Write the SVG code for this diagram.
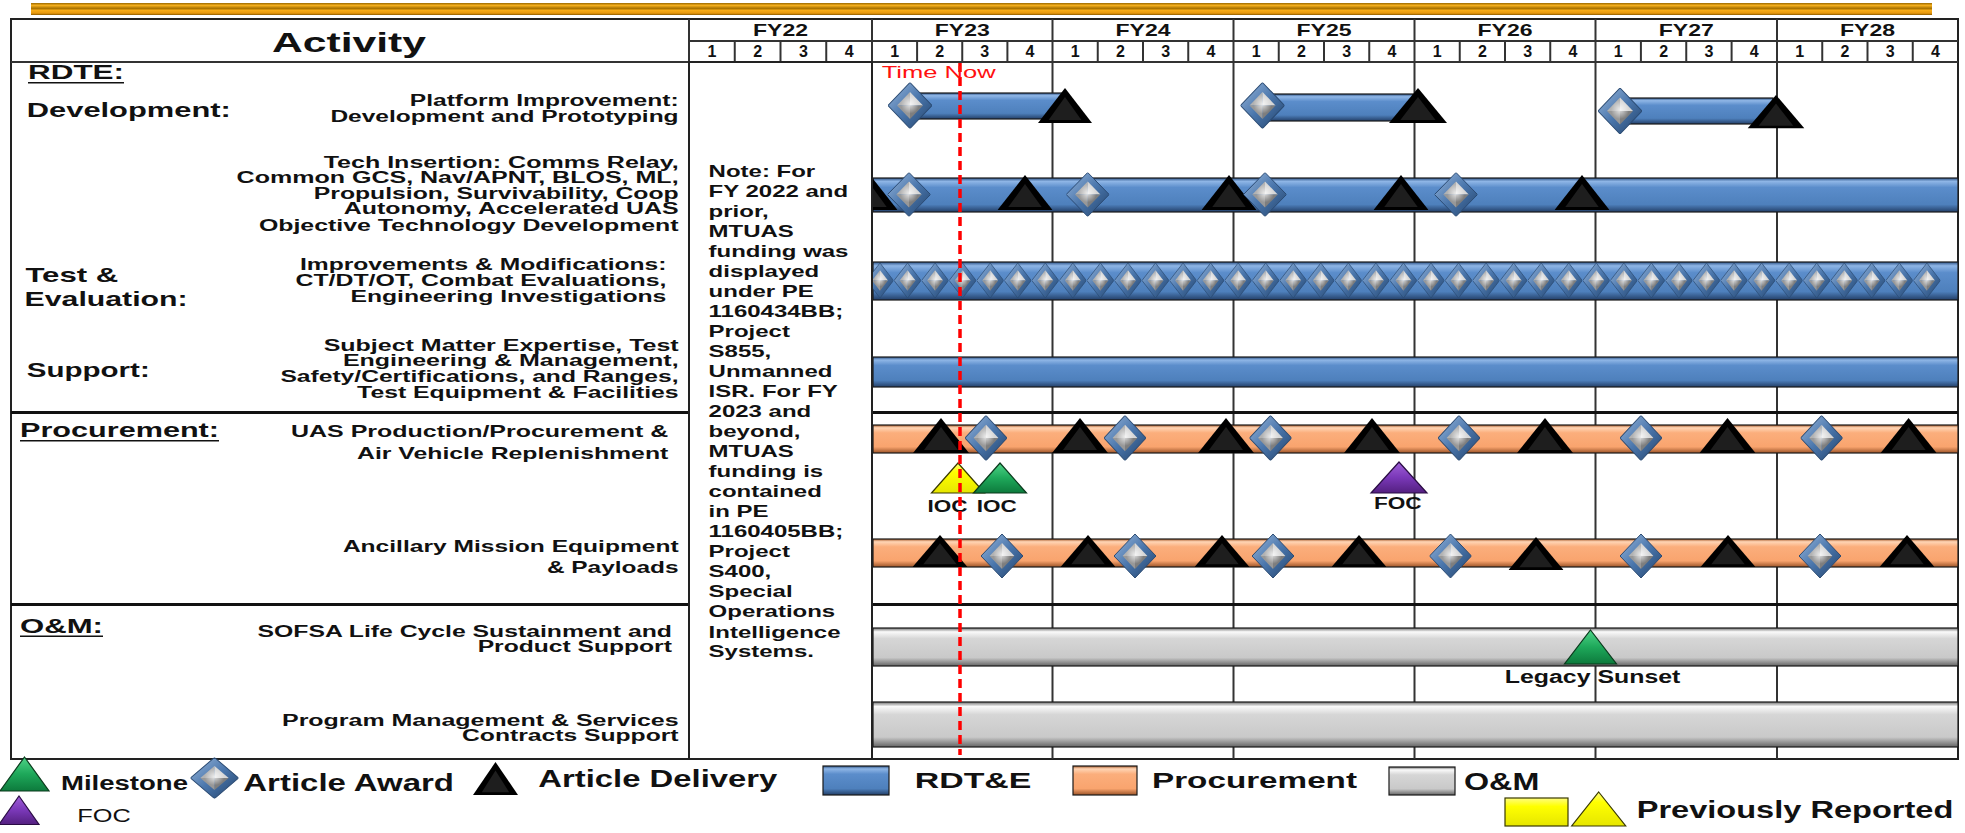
<svg xmlns="http://www.w3.org/2000/svg" width="1965" height="833" viewBox="0 0 1965 833">
<style>
text{font-family:"Liberation Sans",Arial,sans-serif;fill:#111}
.b{font-weight:bold}
.grid{stroke:#333;stroke-width:2;fill:none}
.sep{stroke:#111;stroke-width:3}
.bar{stroke:#1a1a1a;stroke-width:1.2}
.qn{font-size:16px;font-weight:bold;text-anchor:middle}
.fy{font-size:17px;font-weight:bold}
.act{font-size:16px;font-weight:bold}
.note{font-size:16px;font-weight:bold}
.leg{font-weight:bold}
</style>
<defs>
<linearGradient id="gGold" x1="0" y1="0" x2="0" y2="1">
<stop offset="0" stop-color="#9a6800"/><stop offset="0.2" stop-color="#f6b01e"/><stop offset="0.45" stop-color="#a87200"/><stop offset="0.62" stop-color="#f7ac18"/><stop offset="0.85" stop-color="#e8980e"/><stop offset="1" stop-color="#8a5a00"/>
</linearGradient>
<linearGradient id="gBlue" x1="0" y1="0" x2="0" y2="1">
<stop offset="0" stop-color="#2c5286"/><stop offset="0.1" stop-color="#8fb6e6"/><stop offset="0.28" stop-color="#5b8dcb"/><stop offset="0.78" stop-color="#4e80bc"/><stop offset="1" stop-color="#233f68"/>
</linearGradient>
<linearGradient id="gOrange" x1="0" y1="0" x2="0" y2="1">
<stop offset="0" stop-color="#a85a2a"/><stop offset="0.1" stop-color="#ffd5b5"/><stop offset="0.28" stop-color="#fbae7c"/><stop offset="0.78" stop-color="#f9a46e"/><stop offset="1" stop-color="#9c5428"/>
</linearGradient>
<linearGradient id="gGray" x1="0" y1="0" x2="0" y2="1">
<stop offset="0" stop-color="#707070"/><stop offset="0.1" stop-color="#fafafa"/><stop offset="0.28" stop-color="#d6d6d6"/><stop offset="0.78" stop-color="#c9c9c9"/><stop offset="1" stop-color="#646464"/>
</linearGradient>
<linearGradient id="gYellow" x1="0" y1="0" x2="0" y2="1">
<stop offset="0" stop-color="#fffd80"/><stop offset="0.3" stop-color="#ffff00"/><stop offset="1" stop-color="#e6e600"/>
</linearGradient>
<linearGradient id="gGreen" x1="0" y1="0" x2="0" y2="1">
<stop offset="0" stop-color="#4fd488"/><stop offset="0.5" stop-color="#1ea85a"/><stop offset="1" stop-color="#0d7a3c"/>
</linearGradient>
<linearGradient id="gPurple" x1="0" y1="0" x2="0" y2="1">
<stop offset="0" stop-color="#a060d8"/><stop offset="0.5" stop-color="#7a38b8"/><stop offset="1" stop-color="#542080"/>
</linearGradient>
<linearGradient id="gDiaEdge" x1="0" y1="0" x2="1" y2="1">
<stop offset="0" stop-color="#9ab8dc"/><stop offset="0.5" stop-color="#4a76ac"/><stop offset="1" stop-color="#22426a"/>
</linearGradient>
<radialGradient id="gShine" cx="0.5" cy="0.45" r="0.35">
<stop offset="0" stop-color="#ffffff" stop-opacity="0.75"/><stop offset="1" stop-color="#ffffff" stop-opacity="0"/>
</radialGradient>
<symbol id="dia" viewBox="-22 -22 44 44" preserveAspectRatio="none">
<polygon points="0,-22 22,0 0,22 -22,0" fill="url(#gDiaEdge)" stroke="#2a4a72" stroke-width="1"/>
<polygon points="0,-13 0,0 -13,0" fill="#b2b2b2"/>
<polygon points="0,-13 13,0 0,0" fill="#d6d6d6"/>
<polygon points="13,0 0,13 0,0" fill="#7e7e7e"/>
<polygon points="-13,0 0,0 0,13" fill="#989898"/>
<polygon points="0,-13 13,0 0,13 -13,0" fill="url(#gShine)"/>
</symbol>
<symbol id="triK" viewBox="0 0 56 35" preserveAspectRatio="none">
<polygon points="28,0 56,35 0,35" fill="#000"/>
<polygon points="28,9 45,32 11,32" fill="#1e1e1e"/>
</symbol>
</defs>

<rect width="1965" height="833" fill="#fff"/>
<rect x="31" y="3" width="1901" height="12" fill="url(#gGold)"/>

<g id="table-frame">
<rect x="11" y="19" width="1947" height="740" fill="#fff" stroke="#222" stroke-width="2"/>
<line class="grid" x1="11" y1="62" x2="1958" y2="62"/>
<line class="grid" x1="689" y1="41" x2="1958" y2="41"/>
<line class="grid" x1="689" y1="19" x2="689" y2="759"/>
<g class="grid">
<line x1="872" y1="19" x2="872" y2="62"/>
<line x1="1052.5" y1="19" x2="1052.5" y2="759"/>
<line x1="1233.5" y1="19" x2="1233.5" y2="759"/>
<line x1="1414.5" y1="19" x2="1414.5" y2="759"/>
<line x1="1595.5" y1="19" x2="1595.5" y2="759"/>
<line x1="1777" y1="19" x2="1777" y2="759"/>
</g>
<g class="grid" stroke-width="1.8">
<line x1="734.75" y1="41" x2="734.75" y2="62"/><line x1="780.5" y1="41" x2="780.5" y2="62"/><line x1="826.25" y1="41" x2="826.25" y2="62"/>
<line x1="917.1" y1="41" x2="917.1" y2="62"/><line x1="962.25" y1="41" x2="962.25" y2="62"/><line x1="1007.4" y1="41" x2="1007.4" y2="62"/>
<line x1="1097.75" y1="41" x2="1097.75" y2="62"/><line x1="1143" y1="41" x2="1143" y2="62"/><line x1="1188.25" y1="41" x2="1188.25" y2="62"/>
<line x1="1278.75" y1="41" x2="1278.75" y2="62"/><line x1="1324" y1="41" x2="1324" y2="62"/><line x1="1369.25" y1="41" x2="1369.25" y2="62"/>
<line x1="1459.75" y1="41" x2="1459.75" y2="62"/><line x1="1505" y1="41" x2="1505" y2="62"/><line x1="1550.25" y1="41" x2="1550.25" y2="62"/>
<line x1="1640.9" y1="41" x2="1640.9" y2="62"/><line x1="1686.25" y1="41" x2="1686.25" y2="62"/><line x1="1731.6" y1="41" x2="1731.6" y2="62"/>
<line x1="1822.25" y1="41" x2="1822.25" y2="62"/><line x1="1867.5" y1="41" x2="1867.5" y2="62"/><line x1="1912.75" y1="41" x2="1912.75" y2="62"/>
</g>
<line class="sep" x1="11" y1="412.5" x2="1958" y2="412.5"/>
<line class="sep" x1="11" y1="604.5" x2="1958" y2="604.5"/>
</g>

<g id="header-labels">
<text class="b" x="272" y="51.7" font-size="28" textLength="154" lengthAdjust="spacingAndGlyphs">Activity</text>
<text class="fy" x="753" y="36" textLength="55" lengthAdjust="spacingAndGlyphs">FY22</text>
<text class="fy" x="934.75" y="36" textLength="55" lengthAdjust="spacingAndGlyphs">FY23</text>
<text class="fy" x="1115.5" y="36" textLength="55" lengthAdjust="spacingAndGlyphs">FY24</text>
<text class="fy" x="1296.5" y="36" textLength="55" lengthAdjust="spacingAndGlyphs">FY25</text>
<text class="fy" x="1477.5" y="36" textLength="55" lengthAdjust="spacingAndGlyphs">FY26</text>
<text class="fy" x="1658.75" y="36" textLength="55" lengthAdjust="spacingAndGlyphs">FY27</text>
<text class="fy" x="1840" y="36" textLength="55" lengthAdjust="spacingAndGlyphs">FY28</text>
<g class="qn">
<text x="711.9" y="56.7">1</text><text x="757.6" y="56.7">2</text><text x="803.4" y="56.7">3</text><text x="849.1" y="56.7">4</text>
<text x="894.6" y="56.7">1</text><text x="939.7" y="56.7">2</text><text x="984.8" y="56.7">3</text><text x="1029.9" y="56.7">4</text>
<text x="1075.1" y="56.7">1</text><text x="1120.4" y="56.7">2</text><text x="1165.6" y="56.7">3</text><text x="1210.9" y="56.7">4</text>
<text x="1256.1" y="56.7">1</text><text x="1301.4" y="56.7">2</text><text x="1346.6" y="56.7">3</text><text x="1391.9" y="56.7">4</text>
<text x="1437.1" y="56.7">1</text><text x="1482.4" y="56.7">2</text><text x="1527.6" y="56.7">3</text><text x="1572.9" y="56.7">4</text>
<text x="1618.2" y="56.7">1</text><text x="1663.6" y="56.7">2</text><text x="1708.9" y="56.7">3</text><text x="1754.3" y="56.7">4</text>
<text x="1799.6" y="56.7">1</text><text x="1844.9" y="56.7">2</text><text x="1890.1" y="56.7">3</text><text x="1935.4" y="56.7">4</text>
</g>
</g>

<g id="activity-labels">
<text class="b" x="28" y="79.3" font-size="20" textLength="96" lengthAdjust="spacingAndGlyphs">RDTE:</text>
<line x1="28" y1="82.8" x2="124" y2="82.8" stroke="#111" stroke-width="1.6"/>
<text class="b" x="26.8" y="117.3" font-size="20.5" textLength="204" lengthAdjust="spacingAndGlyphs">Development:</text>
<text class="b" x="25.4" y="281.7" font-size="20.5" textLength="93" lengthAdjust="spacingAndGlyphs">Test &amp;</text>
<text class="b" x="24.6" y="306" font-size="20.5" textLength="163" lengthAdjust="spacingAndGlyphs">Evaluation:</text>
<text class="b" x="26.8" y="376.7" font-size="20.5" textLength="123" lengthAdjust="spacingAndGlyphs">Support:</text>
<text class="b" x="20" y="437.3" font-size="19.5" textLength="199" lengthAdjust="spacingAndGlyphs">Procurement:</text>
<line x1="20" y1="440.8" x2="219" y2="440.8" stroke="#111" stroke-width="1.6"/>
<text class="b" x="20" y="632.7" font-size="19.5" textLength="83" lengthAdjust="spacingAndGlyphs">O&amp;M:</text>
<line x1="20" y1="636.2" x2="103" y2="636.2" stroke="#111" stroke-width="1.6"/>
<g class="act">
<text x="409.8" y="106" textLength="268.8" lengthAdjust="spacingAndGlyphs">Platform Improvement:</text>
<text x="330.4" y="121.7" textLength="348.2" lengthAdjust="spacingAndGlyphs">Development and Prototyping</text>
<text x="323.7" y="167.7" textLength="355" lengthAdjust="spacingAndGlyphs">Tech Insertion: Comms Relay,</text>
<text x="236.6" y="183.3" textLength="442" lengthAdjust="spacingAndGlyphs">Common GCS, Nav/APNT, BLOS, ML,</text>
<text x="313.8" y="199" textLength="364.8" lengthAdjust="spacingAndGlyphs">Propulsion, Survivability, Coop</text>
<text x="343.8" y="214.3" textLength="334.8" lengthAdjust="spacingAndGlyphs">Autonomy, Accelerated UAS</text>
<text x="258.9" y="231" textLength="419.7" lengthAdjust="spacingAndGlyphs">Objective Technology Development</text>
<text x="300" y="270" textLength="366.5" lengthAdjust="spacingAndGlyphs">Improvements &amp; Modifications:</text>
<text x="295.5" y="286" textLength="371" lengthAdjust="spacingAndGlyphs">CT/DT/OT, Combat Evaluations,</text>
<text x="350.4" y="301.7" textLength="316" lengthAdjust="spacingAndGlyphs">Engineering Investigations</text>
<text x="323.7" y="350.7" textLength="355" lengthAdjust="spacingAndGlyphs">Subject Matter Expertise, Test</text>
<text x="342.9" y="366" textLength="335.7" lengthAdjust="spacingAndGlyphs">Engineering &amp; Management,</text>
<text x="280.4" y="382.3" textLength="398.2" lengthAdjust="spacingAndGlyphs">Safety/Certifications, and Ranges,</text>
<text x="357.1" y="397.7" textLength="321.5" lengthAdjust="spacingAndGlyphs">Test Equipment &amp; Facilities</text>
<text x="291" y="437.3" font-size="17" textLength="377.3" lengthAdjust="spacingAndGlyphs">UAS Production/Procurement &amp;</text>
<text x="357" y="459.3" font-size="17" textLength="311.3" lengthAdjust="spacingAndGlyphs">Air Vehicle Replenishment</text>
<text x="342.9" y="551.7" font-size="17" textLength="335.7" lengthAdjust="spacingAndGlyphs">Ancillary Mission Equipment</text>
<text x="546.9" y="573.3" font-size="17" textLength="131.7" lengthAdjust="spacingAndGlyphs">&amp; Payloads</text>
<text x="257.6" y="636.7" textLength="414.3" lengthAdjust="spacingAndGlyphs">SOFSA Life Cycle Sustainment and</text>
<text x="477.7" y="652.3" textLength="194.2" lengthAdjust="spacingAndGlyphs">Product Support</text>
<text x="282" y="726" textLength="396.6" lengthAdjust="spacingAndGlyphs">Program Management &amp; Services</text>
<text x="462" y="741" textLength="216.6" lengthAdjust="spacingAndGlyphs">Contracts Support</text>
</g>
</g>

<g id="row-development">
<rect class="bar" x="910" y="93" width="152" height="26" fill="url(#gBlue)"/>
<rect class="bar" x="1262" y="94" width="151" height="27" fill="url(#gBlue)"/>
<rect class="bar" x="1620" y="98" width="153" height="26" fill="url(#gBlue)"/>
<use href="#dia" x="888" y="82.5" width="44" height="46"/>
<use href="#dia" x="1240.5" y="82.5" width="44" height="46"/>
<use href="#dia" x="1598" y="88" width="44" height="46"/>
<use href="#triK" x="1038" y="88" width="54" height="35"/>
<use href="#triK" x="1389" y="88" width="58" height="35"/>
<use href="#triK" x="1747.5" y="95" width="57" height="33.5"/>
</g>

<g id="row-tech-insertion">
<rect class="bar" x="873" y="178" width="1085" height="34" fill="url(#gBlue)"/>
<use href="#triK" x="842.5" y="175" width="55" height="35"/>
<use href="#triK" x="997.5" y="175" width="55" height="35"/>
<use href="#triK" x="1201.5" y="175" width="55" height="35"/>
<use href="#triK" x="1373.5" y="175" width="55" height="35"/>
<use href="#triK" x="1554.5" y="175" width="55" height="35"/>
<use href="#dia" x="887.5" y="172.5" width="43" height="44"/>
<use href="#dia" x="1066.2" y="172.5" width="43" height="44"/>
<use href="#dia" x="1243.5" y="172.5" width="43" height="44"/>
<use href="#dia" x="1434.5" y="172.5" width="43" height="44"/>
</g>

<g id="row-test-evaluation">
<rect class="bar" x="873" y="262" width="1085" height="38" fill="url(#gBlue)"/>
<g>
<use href="#dia" x="866.5" y="263" width="27" height="35"/>
<use href="#dia" x="894.05" y="263" width="27" height="35"/>
<use href="#dia" x="921.6" y="263" width="27" height="35"/>
<use href="#dia" x="949.15" y="263" width="27" height="35"/>
<use href="#dia" x="976.7" y="263" width="27" height="35"/>
<use href="#dia" x="1004.25" y="263" width="27" height="35"/>
<use href="#dia" x="1031.8" y="263" width="27" height="35"/>
<use href="#dia" x="1059.35" y="263" width="27" height="35"/>
<use href="#dia" x="1086.9" y="263" width="27" height="35"/>
<use href="#dia" x="1114.45" y="263" width="27" height="35"/>
<use href="#dia" x="1142" y="263" width="27" height="35"/>
<use href="#dia" x="1169.55" y="263" width="27" height="35"/>
<use href="#dia" x="1197.1" y="263" width="27" height="35"/>
<use href="#dia" x="1224.65" y="263" width="27" height="35"/>
<use href="#dia" x="1252.2" y="263" width="27" height="35"/>
<use href="#dia" x="1279.75" y="263" width="27" height="35"/>
<use href="#dia" x="1307.3" y="263" width="27" height="35"/>
<use href="#dia" x="1334.85" y="263" width="27" height="35"/>
<use href="#dia" x="1362.4" y="263" width="27" height="35"/>
<use href="#dia" x="1389.95" y="263" width="27" height="35"/>
<use href="#dia" x="1417.5" y="263" width="27" height="35"/>
<use href="#dia" x="1445.05" y="263" width="27" height="35"/>
<use href="#dia" x="1472.6" y="263" width="27" height="35"/>
<use href="#dia" x="1500.15" y="263" width="27" height="35"/>
<use href="#dia" x="1527.7" y="263" width="27" height="35"/>
<use href="#dia" x="1555.25" y="263" width="27" height="35"/>
<use href="#dia" x="1582.8" y="263" width="27" height="35"/>
<use href="#dia" x="1610.35" y="263" width="27" height="35"/>
<use href="#dia" x="1637.9" y="263" width="27" height="35"/>
<use href="#dia" x="1665.45" y="263" width="27" height="35"/>
<use href="#dia" x="1693" y="263" width="27" height="35"/>
<use href="#dia" x="1720.55" y="263" width="27" height="35"/>
<use href="#dia" x="1748.1" y="263" width="27" height="35"/>
<use href="#dia" x="1775.65" y="263" width="27" height="35"/>
<use href="#dia" x="1803.2" y="263" width="27" height="35"/>
<use href="#dia" x="1830.75" y="263" width="27" height="35"/>
<use href="#dia" x="1858.3" y="263" width="27" height="35"/>
<use href="#dia" x="1885.85" y="263" width="27" height="35"/>
<use href="#dia" x="1913.4" y="263" width="27" height="35"/>
</g>
</g>

<g id="row-support">
<rect class="bar" x="873" y="357" width="1085" height="30" fill="url(#gBlue)"/>
</g>

<g id="row-uas-production">
<rect class="bar" x="873" y="425" width="1085" height="28" fill="url(#gOrange)"/>
<use href="#triK" x="913" y="418" width="56" height="35"/>
<use href="#triK" x="1052" y="418" width="56" height="35"/>
<use href="#triK" x="1198" y="418" width="56" height="35"/>
<use href="#triK" x="1344" y="418" width="56" height="35"/>
<use href="#triK" x="1517" y="418" width="56" height="35"/>
<use href="#triK" x="1699.5" y="418" width="56" height="35"/>
<use href="#triK" x="1880.6" y="418" width="56" height="35"/>
<use href="#dia" x="965" y="415.5" width="42" height="45"/>
<use href="#dia" x="1104" y="415.5" width="42" height="45"/>
<use href="#dia" x="1249.5" y="415.5" width="42" height="45"/>
<use href="#dia" x="1438" y="415.5" width="42" height="45"/>
<use href="#dia" x="1620" y="415.5" width="42" height="45"/>
<use href="#dia" x="1800.6" y="415.5" width="42" height="45"/>
</g>

<g id="milestones-ioc-foc">
<polygon points="958,463 984.5,493 931.5,493" fill="url(#gYellow)" stroke="#3a3a00" stroke-width="1.2"/>
<polygon points="1000,463 1026.5,493 973.5,493" fill="url(#gGreen)" stroke="#0a3a1c" stroke-width="1.2"/>
<polygon points="1399,462 1427,493 1371,493" fill="url(#gPurple)" stroke="#2a0c44" stroke-width="1.2"/>
<text class="b" x="927.5" y="512.3" font-size="17" textLength="40" lengthAdjust="spacingAndGlyphs">IOC</text>
<text class="b" x="976.7" y="512.3" font-size="17" textLength="40" lengthAdjust="spacingAndGlyphs">IOC</text>
<text class="b" x="1374" y="509.3" font-size="16" textLength="47.7" lengthAdjust="spacingAndGlyphs">FOC</text>
</g>

<g id="row-ancillary">
<rect class="bar" x="873" y="539" width="1085" height="28" fill="url(#gOrange)"/>
<use href="#triK" x="912.5" y="535" width="55" height="32"/>
<use href="#triK" x="1060.5" y="535" width="55" height="32"/>
<use href="#triK" x="1194.5" y="535" width="55" height="32"/>
<use href="#triK" x="1331.5" y="535" width="55" height="32"/>
<use href="#triK" x="1508.5" y="537" width="55" height="33"/>
<use href="#triK" x="1700.5" y="535" width="55" height="32"/>
<use href="#triK" x="1879.5" y="535" width="55" height="32"/>
<use href="#dia" x="981" y="534" width="42" height="44"/>
<use href="#dia" x="1114" y="534" width="42" height="44"/>
<use href="#dia" x="1252" y="534" width="42" height="44"/>
<use href="#dia" x="1429.5" y="534" width="42" height="44"/>
<use href="#dia" x="1620" y="534" width="42" height="44"/>
<use href="#dia" x="1799" y="534" width="42" height="44"/>
</g>

<g id="row-sofsa">
<rect class="bar" x="873" y="628" width="1085" height="38" fill="url(#gGray)"/>
<polygon points="1590.5,630 1616.5,664 1564.5,664" fill="url(#gGreen)" stroke="#0a3a1c" stroke-width="1.2"/>
<text class="b" x="1504.8" y="683.3" font-size="17.5" textLength="175.6" lengthAdjust="spacingAndGlyphs">Legacy Sunset</text>
</g>

<g id="row-program-mgmt">
<rect class="bar" x="873" y="702" width="1085" height="45" fill="url(#gGray)"/>
</g>

<g id="note">
<rect x="689" y="62" width="183" height="697" fill="#fff" stroke="#222" stroke-width="2"/>
<g class="note" transform="translate(708.6 0) scale(1.5 1)">
<text x="0" y="177.5">Note: For</text>
<text x="0" y="197.5">FY 2022 and</text>
<text x="0" y="217.5">prior,</text>
<text x="0" y="237.5">MTUAS</text>
<text x="0" y="257.5">funding was</text>
<text x="0" y="277.5">displayed</text>
<text x="0" y="297.5">under PE</text>
<text x="0" y="317.5">1160434BB;</text>
<text x="0" y="337.5">Project</text>
<text x="0" y="357.5">S855,</text>
<text x="0" y="377.5">Unmanned</text>
<text x="0" y="397.5">ISR.  For FY</text>
<text x="0" y="417.5">2023 and</text>
<text x="0" y="437.5">beyond,</text>
<text x="0" y="457.5">MTUAS</text>
<text x="0" y="477.5">funding is</text>
<text x="0" y="497.5">contained</text>
<text x="0" y="517.5">in PE</text>
<text x="0" y="537.5">1160405BB;</text>
<text x="0" y="557.5">Project</text>
<text x="0" y="577.5">S400,</text>
<text x="0" y="597.5">Special</text>
<text x="0" y="617.5">Operations</text>
<text x="0" y="637.5">Intelligence</text>
<text x="0" y="657.5">Systems.</text>
</g>
</g>

<g id="time-now">
<line x1="960" y1="63" x2="960" y2="755" stroke="#ff0000" stroke-width="3.5" stroke-dasharray="9 5"/>
<text x="881.7" y="78.3" font-size="16.5" style="fill:#ff1010" textLength="114" lengthAdjust="spacingAndGlyphs">Time Now</text>
</g>

<g id="connectors"></g>

<g id="legend">
<polygon points="24.5,757 49,791 0,791" fill="url(#gGreen)" stroke="#0a3a1c" stroke-width="1.2"/>
<text class="leg" x="61" y="790" font-size="19.5" textLength="127" lengthAdjust="spacingAndGlyphs">Milestone</text>
<use href="#dia" x="190.5" y="757.5" width="48" height="41"/>
<text class="leg" x="243.3" y="791" font-size="24.5" textLength="210.7" lengthAdjust="spacingAndGlyphs">Article Award</text>
<use href="#triK" x="473" y="762" width="45" height="33"/>
<text class="leg" x="538.3" y="786.7" font-size="23" textLength="239" lengthAdjust="spacingAndGlyphs">Article Delivery</text>
<rect class="bar" x="823" y="766" width="66" height="29" fill="url(#gBlue)"/>
<text class="leg" x="914.8" y="788.3" font-size="22" textLength="116.6" lengthAdjust="spacingAndGlyphs">RDT&amp;E</text>
<rect class="bar" x="1073" y="766" width="64" height="29" fill="url(#gOrange)"/>
<text class="leg" x="1152" y="788" font-size="22" textLength="205" lengthAdjust="spacingAndGlyphs">Procurement</text>
<rect class="bar" x="1389" y="767" width="66" height="28" fill="url(#gGray)"/>
<text class="leg" x="1464" y="790" font-size="23" textLength="75.3" lengthAdjust="spacingAndGlyphs">O&amp;M</text>
<rect x="1505" y="798" width="63" height="28" fill="url(#gYellow)" stroke="#3a3a00" stroke-width="1.2"/>
<polygon points="1598.7,792 1625.7,826 1571.7,826" fill="url(#gYellow)" stroke="#3a3a00" stroke-width="1.2"/>
<text class="leg" x="1636.7" y="818.3" font-size="23" textLength="316.6" lengthAdjust="spacingAndGlyphs">Previously Reported</text>
<polygon points="19,796 39,824.5 -1,824.5" fill="url(#gPurple)" stroke="#2a0c44" stroke-width="1.2"/>
<text x="77.3" y="821.7" font-size="18.5" textLength="53.4" lengthAdjust="spacingAndGlyphs">FOC</text>
</g>
</svg>
